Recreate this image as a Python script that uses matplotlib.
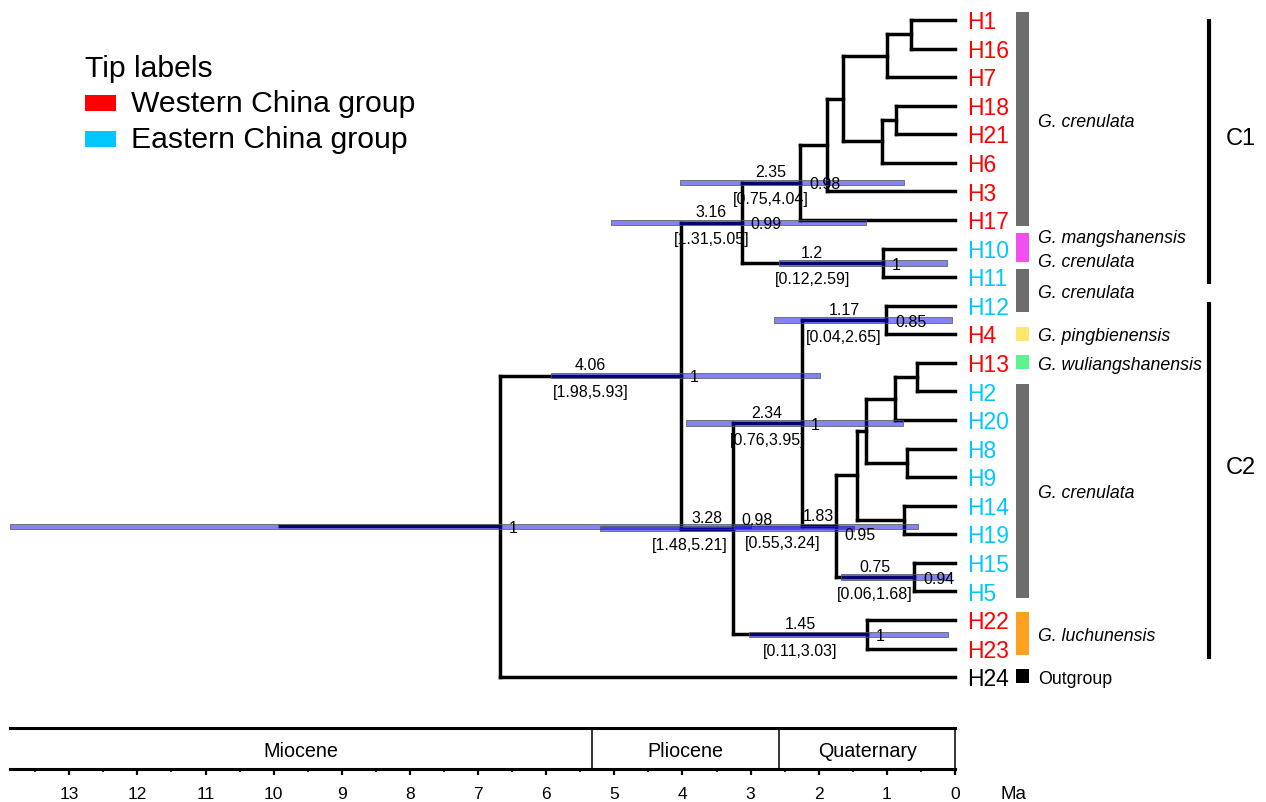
import numpy as np
import matplotlib.pyplot as plt
from matplotlib.patches import Rectangle

plt.rcParams['font.family'] = ['Liberation Sans', 'DejaVu Sans']

# ---- data -------------------------------------------------------------
# tips, top to bottom
tips = ['H1', 'H16', 'H7', 'H18', 'H21', 'H6', 'H3', 'H17', 'H10', 'H11',
        'H12', 'H4', 'H13', 'H2', 'H20', 'H8', 'H9', 'H14', 'H19', 'H15',
        'H5', 'H22', 'H23', 'H24']
tip_group = ['W', 'W', 'W', 'W', 'W', 'W', 'W', 'W', 'E', 'E',
             'E', 'W', 'W', 'E', 'E', 'E', 'E', 'E', 'E', 'E',
             'E', 'W', 'W', 'O']

# internal nodes (children, node height in Ma as drawn, posterior)
node_names = ['nE', 'nC', 'nF', 'nD', 'nB', 'nA', 'n235', 'n120', 'n316',
              'n117', 'nG', 'nH', 'nI', 'nJ', 'nK', 'nL', 'n075', 'n183',
              'n234', 'n145', 'n328', 'n406', 'root']
node_children = [['H1', 'H16'], ['nE', 'H7'], ['H18', 'H21'], ['nF', 'H6'],
                 ['nC', 'nD'], ['nB', 'H3'], ['nA', 'H17'], ['H10', 'H11'],
                 ['n235', 'n120'],
                 ['H12', 'H4'], ['H13', 'H2'], ['nG', 'H20'], ['H8', 'H9'],
                 ['nH', 'nI'], ['H14', 'H19'], ['nJ', 'nK'], ['H15', 'H5'],
                 ['nL', 'n075'], ['n117', 'n183'], ['H22', 'H23'],
                 ['n234', 'n145'], ['n316', 'n328'], ['n406', 'H24']]
node_age = [0.65, 1.00, 0.87, 1.07, 1.64, 1.88, 2.27, 1.06, 3.13,
            1.01, 0.56, 0.88, 0.70, 1.31, 0.75, 1.44, 0.60, 1.75,
            2.25, 1.29, 3.26, 4.02, 6.68]
node_post = ['', '', '', '', '', '', '0.98', '1', '0.99',
             '0.85', '', '', '', '', '', '', '0.94', '0.95',
             '1', '1', '0.98', '1', '1']
root_stem = 9.93

# divergence times with 95% HPD
dated = ['n406', 'n316', 'n235', 'n120', 'n328', 'n234', 'n117', 'n183',
         'n075', 'n145']
mean_age = [4.06, 3.16, 2.35, 1.2, 3.28, 2.34, 1.17, 1.83, 0.75, 1.45]
hpd_lo = [1.98, 1.31, 0.75, 0.12, 1.48, 0.76, 0.04, 0.55, 0.06, 0.11]
hpd_hi = [5.93, 5.05, 4.04, 2.59, 5.21, 3.95, 2.65, 3.24, 1.68, 3.03]
root_hpd = (3.0, 13.87)

# species bars
bar_first = ['H1', 'H10', 'H11', 'H4', 'H13', 'H2', 'H22', 'H24']
bar_last = ['H17', 'H10', 'H12', 'H4', 'H13', 'H5', 'H23', 'H24']
bar_color = ['#6d6d6d', '#f050f0', '#6d6d6d', '#ffe66e', '#5af58c',
             '#6d6d6d', '#ffa01e', '#000000']
bar_text = ['G. crenulata', 'G. mangshanensis\nG. crenulata', 'G. crenulata',
            'G. pingbienensis', 'G. wuliangshanensis', 'G. crenulata',
            'G. luchunensis', 'Outgroup']

clade_names = ['C1', 'C2']
clade_first = ['H1', 'H12']
clade_last = ['H11', 'H23']

epoch_names = ['Miocene', 'Pliocene', 'Quaternary']
epoch_old = [23.03, 5.333, 2.58]
epoch_young = [5.333, 2.58, 0.0]

group_color = {'W': '#ff0000', 'E': '#00c8ff', 'O': '#000000'}

# ---- layout -----------------------------------------------------------
W, H = 1266, 803
fig = plt.figure(figsize=(W / 100, H / 100), dpi=100)
ax = fig.add_axes([0, 0, 1, 1])
ax.set_xlim(14.013, -4.563)
ax.set_ylim(27.37, -0.735)
ax.axis('off')
PX = 1 / 68.15   # Ma per pixel


def put(axx, x, y, s, fs, **kw):
    # centre the capitals on y
    return axx.annotate(s, (x, y), xytext=(0, -0.358 * fs),
                        textcoords='offset points', fontsize=fs,
                        va='baseline', **kw)


children = dict(zip(node_names, node_children))
age = dict(zip(node_names, node_age))
post = dict(zip(node_names, node_post))
ypos = {t: i for i, t in enumerate(tips)}
for t in tips:
    age[t] = 0.0


def place(n):
    if n not in ypos:
        ys = [place(c) for c in children[n]]
        ypos[n] = (min(ys) + max(ys)) / 2
    return ypos[n]


place('root')
parent = {c: n for n in node_names for c in children[n]}

LW = 2.5
for n in node_names:
    ys = [ypos[c] for c in children[n]]
    ax.plot([age[n], age[n]], [min(ys), max(ys)], color='k', lw=LW,
            solid_capstyle='projecting', zorder=1)
for n, p in parent.items():
    ax.plot([age[p], age[n]], [ypos[n], ypos[n]], color='k', lw=LW,
            solid_capstyle='projecting', zorder=1)
ax.plot([root_stem, age['root']], [ypos['root']] * 2, color='k', lw=LW,
        solid_capstyle='butt', zorder=1)

# HPD bars
bh = 0.19
bar_face = (0.03, 0.03, 0.90, 0.5)
bar_edge = (0.35, 0.35, 0.35, 0.9)
ax.add_patch(Rectangle((root_hpd[0], ypos['root'] - bh / 2),
                       root_hpd[1] - root_hpd[0], bh, facecolor=bar_face,
                       edgecolor=bar_edge, lw=0.6, zorder=2))
for n, lo, hi in zip(dated, hpd_lo, hpd_hi):
    ax.add_patch(Rectangle((lo, ypos[n] - bh / 2), hi - lo, bh,
                           facecolor=bar_face, edgecolor=bar_edge, lw=0.6,
                           zorder=2))

# age / interval labels
ci_shift = {'n183': 0.53, 'n328': 0.25}
fs_node = 11.5
for n, m, lo, hi in zip(dated, mean_age, hpd_lo, hpd_hi):
    xm = (age[parent[n]] + age[n]) / 2
    put(ax, xm, ypos[n] - 0.42, f'{m:g}', fs_node, ha='center', zorder=3)
    put(ax, xm + ci_shift.get(n, 0), ypos[n] + 0.52, f'[{lo:g},{hi:g}]',
        fs_node, ha='center', zorder=3)

post_dy = {'n328': -0.38, 'n183': 0.25}
for n in node_names:
    if post[n]:
        put(ax, age[n] - 9 * PX, ypos[n] + post_dy.get(n, 0), post[n],
            fs_node, ha='left', zorder=3)

# tip labels
for t, g in zip(tips, tip_group):
    put(ax, -12 * PX, ypos[t], t, 16.5, color=group_color[g], ha='left')

# species bars
pad_top, pad_bot = 0.27, 0.22
line_gap = 0.84
for f, l, c, s in zip(bar_first, bar_last, bar_color, bar_text):
    y0, y1 = ypos[f] - pad_top, ypos[l] + pad_bot
    lines = s.split('\n')
    if len(lines) > 1:
        y0, y1 = ypos[f] - 0.55, ypos[l] + 0.47
    ax.add_patch(Rectangle((-61 * PX, y0), -13 * PX, y1 - y0, facecolor=c,
                           edgecolor='none'))
    yc = (y0 + y1) / 2
    for k, line in enumerate(lines):
        yk = yc + (k - (len(lines) - 1) / 2) * line_gap
        put(ax, -83 * PX, yk, line, 12.8, ha='left',
            style='italic' if line.startswith('G.') else 'normal')

# clade brackets
for name, f, l in zip(clade_names, clade_first, clade_last):
    y0, y1 = ypos[f] - 0.05, ypos[l] + 0.25
    if name == 'C2':
        y0, y1 = ypos[f] - 0.13, ypos[l] + 0.37
    ax.plot([-254 * PX, -254 * PX], [y0, y1], color='k', lw=3,
            solid_capstyle='butt')
    put(ax, -271 * PX, (ypos[f] + ypos[l]) / 2 - 0.45, name, 17, ha='left')

# legend
fig.text(85 / W, 1 - 77 / H, 'Tip labels', fontsize=21.7, ha='left',
         va='baseline')
for i, (lab, g) in enumerate([('Western China group', 'W'),
                              ('Eastern China group', 'E')]):
    base = 112 + 36 * i
    fig.patches.append(Rectangle((85 / W, 1 - base / H), 31 / W, 16 / H,
                                 facecolor=group_color[g], edgecolor='none',
                                 transform=fig.transFigure, figure=fig))
    fig.text(131 / W, 1 - base / H, lab, fontsize=21.7, ha='left',
             va='baseline')

# geological time scale
tax = fig.add_axes([10 / W, 1 - 770 / H, 945 / W, 41 / H])
tax.set_xlim(13.87, 0)
tax.set_ylim(0, 1)
lo_lim = tax.get_xlim()[0]
for name, old, young in zip(epoch_names, epoch_old, epoch_young):
    old = min(old, lo_lim)
    put(tax, (old + young) / 2, 0.5, name, 14.2, ha='center')
    if old < lo_lim:
        tax.axvline(old, color='k', lw=1.1)
tax.set_yticks([])
tax.set_xticks(np.arange(0, 14))
tax.set_xticks(np.arange(0.5, 14, 1), minor=True)
tax.tick_params(axis='x', which='major', length=4, width=1.6, pad=8,
                labelsize=12.5)
tax.tick_params(axis='x', which='minor', length=2, width=1.2)
tax.spines['left'].set_visible(False)
tax.spines['top'].set_linewidth(2.2)
tax.spines['bottom'].set_linewidth(2.2)
tax.spines['right'].set_linewidth(1.1)
fig.text(1000 / W, 1 - 799 / H, 'Ma', fontsize=13.5, ha='left',
         va='baseline')

fig.savefig('out.png', dpi=100)
